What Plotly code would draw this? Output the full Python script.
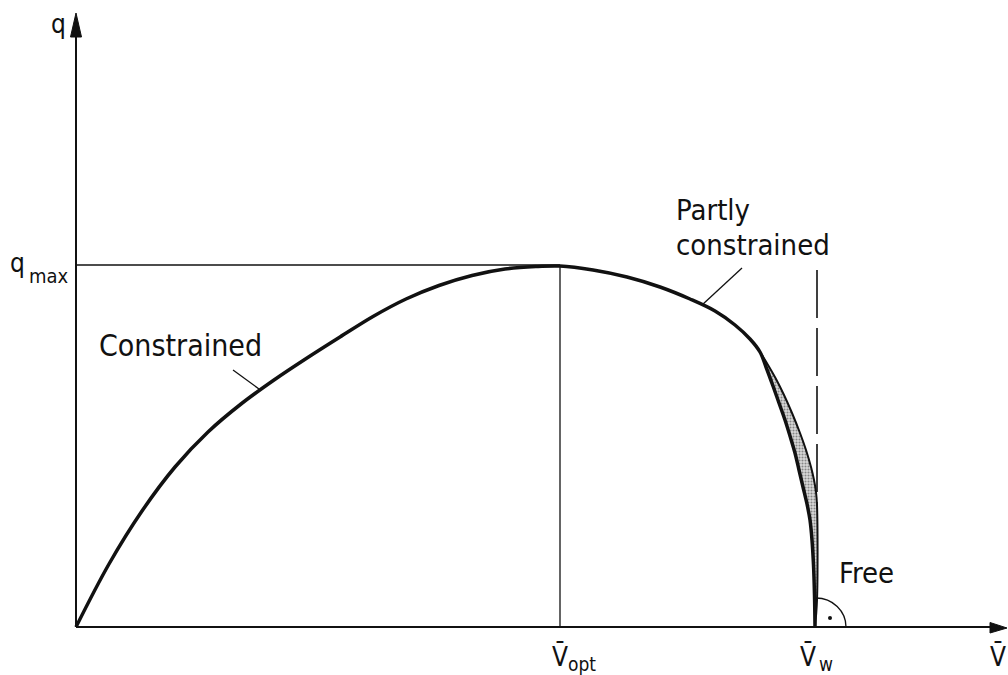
import plotly.graph_objects as go

# ---- data (v normalised so that v_w = 1, q normalised so that q_max = 1) ----
# constrained / partly constrained branch, continuing into the inner (lower) branch
main_v = [0.0, 0.04465, 0.08931, 0.13396, 0.17862, 0.22327, 0.26793, 0.31258, 0.35724,
          0.40189, 0.44655, 0.49120, 0.53586, 0.58051, 0.62517, 0.65494,
          0.69959, 0.74560, 0.79026, 0.83085, 0.86468, 0.89175, 0.91204, 0.92558,
          0.93369, 0.94317, 0.95129, 0.95940, 0.96617, 0.97294, 0.97835, 0.98376,
          0.98917, 0.99323, 0.99594, 0.99797, 0.99932, 1.0]
main_q = [0.0, 0.17403, 0.32044, 0.44199, 0.53867, 0.61602, 0.68232, 0.74309, 0.80110,
          0.85773, 0.90608, 0.94337, 0.97099, 0.98895, 0.99586, 0.99724,
          0.98619, 0.96685, 0.93923, 0.90608, 0.87293, 0.83425, 0.79558, 0.75967,
          0.71823, 0.66575, 0.61878, 0.57182, 0.52762, 0.48066, 0.43370, 0.38674,
          0.33978, 0.29558, 0.24033, 0.17127, 0.08840, 0.0]
split_index = 23  # last point shared by both branches

# outer (upper) branch of the partly constrained region
outer_v = [0.92558, 0.93640, 0.94723, 0.95805, 0.96888, 0.97970, 0.98782, 0.99459,
           0.99865, 1.00135, 1.00271, 1.00271, 1.0]
outer_q = [0.75967, 0.72376, 0.68508, 0.64088, 0.59116, 0.53591, 0.48895, 0.44199,
           0.40608, 0.37293, 0.33702, 0.07459, 0.0]

v_opt = 0.65494
v_w = 1.0
q_max = 1.0
free_dash_v = 1.00271
free_dash_q = [0.98619, 0.33702]

labels = {"q": "q", "qmax": "max", "vopt": "opt", "vw": "w", "vbar": "V\u0304",
          "c": "Constrained", "p1": "Partly", "p2": "constrained", "f": "Free"}

# pixel mapping helpers for decorations / text placement
X0, Y0, SX, SY = 76, 627, 739.0, 362.0
def dx(px):
    return (px - X0) / SX
def dy(py):
    return (Y0 - py) / SY

FONT = "DejaVu Sans Condensed, Liberation Sans Narrow, DejaVu Sans"
BLACK = "#111111"

fig = go.Figure()

inner_v = main_v[split_index:]
inner_q = main_q[split_index:]

# stippled band between the two branches
fig.add_trace(go.Scatter(
    x=outer_v + inner_v[::-1], y=outer_q + inner_q[::-1],
    mode="lines", line=dict(width=0, color="rgba(0,0,0,0)"), line_shape="spline",
    fill="toself", fillcolor="rgba(255,255,255,0)",
    fillpattern=dict(shape=".", fgcolor="#333333", bgcolor="#d9d9d9", size=3, solidity=0.4),
    hoverinfo="skip", showlegend=False))

# q_max and v_opt guide lines
fig.add_trace(go.Scatter(x=[0, v_opt], y=[q_max, q_max], mode="lines",
                         line=dict(color=BLACK, width=1.3), showlegend=False))
fig.add_trace(go.Scatter(x=[v_opt, v_opt], y=[0, max(main_q)], mode="lines",
                         line=dict(color=BLACK, width=1.3), showlegend=False))

# dashed free-flow boundary
fig.add_trace(go.Scatter(x=[free_dash_v, free_dash_v], y=free_dash_q, mode="lines",
                         line=dict(color=BLACK, width=1.6, dash="48px,10px"), showlegend=False))

# curves
fig.add_trace(go.Scatter(x=outer_v, y=outer_q, mode="lines", line_shape="spline",
                         line=dict(color=BLACK, width=2.0), showlegend=False))
fig.add_trace(go.Scatter(x=main_v, y=main_q, mode="lines", line_shape="spline",
                         line=dict(color=BLACK, width=3.5), showlegend=False))

# right-angle dot
fig.add_trace(go.Scatter(x=[dx(830)], y=[dy(618)], mode="markers",
                         marker=dict(color=BLACK, size=4), showlegend=False))

shapes = []
# axes
shapes.append(dict(type="line", x0=0, y0=0, x1=dx(995), y1=0, line=dict(color=BLACK, width=2)))
shapes.append(dict(type="line", x0=0, y0=0, x1=0, y1=dy(30), line=dict(color=BLACK, width=2)))
# arrowheads
shapes.append(dict(type="path",
                   path=f"M {dx(1007)} {dy(628)} L {dx(990)} {dy(622.5)} L {dx(990)} {dy(633)} Z",
                   fillcolor=BLACK, line=dict(color=BLACK, width=1)))
shapes.append(dict(type="path",
                   path=f"M {dx(76)} {dy(13)} L {dx(70.5)} {dy(37)} L {dx(81.5)} {dy(37)} Z",
                   fillcolor=BLACK, line=dict(color=BLACK, width=1)))
# pointer lines
shapes.append(dict(type="line", x0=dx(233), y0=dy(370), x1=dx(259), y1=dy(389),
                   line=dict(color=BLACK, width=1.3)))
shapes.append(dict(type="line", x0=dx(742), y0=dy(268), x1=dx(702), y1=dy(305),
                   line=dict(color=BLACK, width=1.3)))
# right-angle arc (quarter circle)
rx, ry, k = 30 / SX, 29 / SY, 0.5523
cx, cy = dx(816), 0
shapes.append(dict(type="path",
                   path=(f"M {cx} {cy + ry} C {cx + k * rx} {cy + ry} {cx + rx} {cy + k * ry} "
                         f"{cx + rx} {cy}"),
                   line=dict(color=BLACK, width=1.3)))

anns = []
def txt(x, y, s, size, xanchor="left", yanchor="middle"):
    anns.append(dict(x=x, y=y, text=s, showarrow=False, xanchor=xanchor, yanchor=yanchor,
                     font=dict(family=FONT, size=size, color=BLACK)))

txt(dx(49), dy(24), labels["q"], 26)
txt(dx(8), dy(263), labels["q"], 26)
txt(dx(27), dy(276), labels["qmax"], 20)
txt(dx(550), dy(656), labels["vbar"], 26)
txt(dx(566), dy(664), labels["vopt"], 19)
txt(dx(798), dy(656), labels["vbar"], 26)
txt(dx(817), dy(664), labels["vw"], 19)
txt(dx(988), dy(656), labels["vbar"], 26)
txt(dx(97), dy(345), labels["c"], 30)
txt(dx(674), dy(210), labels["p1"], 29)
txt(dx(674), dy(245), labels["p2"], 29)
txt(dx(837), dy(573), labels["f"], 29)

fig.update_layout(
    width=1008, height=675,
    margin=dict(l=0, r=0, t=0, b=0),
    paper_bgcolor="white", plot_bgcolor="white",
    xaxis=dict(range=[dx(0), dx(1008)], visible=False, fixedrange=True),
    yaxis=dict(range=[dy(675), dy(0)], visible=False, fixedrange=True),
    shapes=shapes, annotations=anns, showlegend=False,
)

fig.write_html("out.html", config={"displayModeBar": False},
               post_script="document.body.style.margin='0';document.body.style.overflow='hidden';")
